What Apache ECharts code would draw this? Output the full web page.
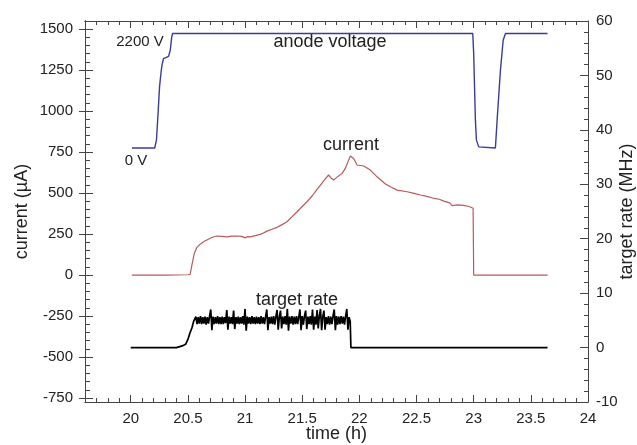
<!DOCTYPE html>
<html><head><meta charset="utf-8">
<script src="https://cdn.jsdelivr.net/npm/echarts@6/dist/echarts.min.js"></script>
<style>html,body{margin:0;padding:0;background:#fff}#c{width:637px;height:445px}</style>
</head><body><div id="c"></div>
<script>
// ---- tick labels ----
const xTicks = [20, 20.5, 21, 21.5, 22, 22.5, 23, 23.5, 24];
const leftTicks = [-750, -500, -250, 0, 250, 500, 750, 1000, 1250, 1500];

// ---- anode voltage [time h, volts] ----
const voltage = [
  [20.01, 0], [20.21, 0], [20.225, 150], [20.24, 700], [20.252, 1174], [20.265, 1450],
  [20.273, 1589], [20.287, 1719], [20.302, 1750], [20.331, 1760], [20.346, 1879],
  [20.358, 2120], [20.366, 2200], [22.992, 2200], [23.0, 1821], [23.015, 535],
  [23.024, 151], [23.044, 22], [23.06, 0], [23.19, 0], [23.205, 535], [23.234, 1495],
  [23.258, 2071], [23.278, 2200], [23.646, 2200]
];

// ---- current [time h, µA] ----
const current = [
  [20.01, 0], [20.3, 0], [20.5, 2], [20.52, 5], [20.535, 60], [20.556, 132], [20.579, 169],
  [20.61, 190], [20.637, 203], [20.67, 215], [20.696, 224], [20.72, 232], [20.754, 238],
  [20.8, 236], [20.842, 233], [20.88, 237], [20.93, 238], [20.97, 236], [21.002, 227],
  [21.02, 234], [21.046, 233], [21.09, 240], [21.133, 248], [21.16, 256], [21.192, 268],
  [21.23, 278], [21.28, 291], [21.32, 306], [21.367, 325], [21.41, 355], [21.455, 386],
  [21.5, 418], [21.542, 447], [21.59, 485], [21.63, 522], [21.66, 549], [21.7, 585],
  [21.731, 610], [21.755, 590], [21.775, 579], [21.81, 600], [21.849, 620], [21.877, 650],
  [21.9, 690], [21.921, 726], [21.95, 711], [21.98, 671], [22.01, 668], [22.038, 665],
  [22.053, 677], [22.096, 640], [22.155, 599], [22.228, 555], [22.28, 535], [22.33, 518],
  [22.418, 508], [22.47, 500], [22.534, 488], [22.59, 480], [22.65, 468], [22.7, 462],
  [22.738, 451], [22.79, 440], [22.811, 423], [22.86, 428], [22.913, 425], [22.96, 418],
  [22.995, 407], [23.0, 0], [23.646, 0]
];

// ---- target rate [time h, MHz] ----
const rateBefore = [
  [20.0, 0], [20.4, 0], [20.45, 0.3], [20.48, 0.6], [20.5, 1.5], [20.52, 2.8], [20.535, 3.6], [20.55, 4.8]
];
const rateNoiseStart = 20.56, rateNoiseStep = 0.01;
const rateNoise = [
  5.0, 5.7, 4.3, 5.6, 4.4, 5.8, 4.3, 5.6, 4.4, 5.7,
  4.2, 5.6, 4.4, 5.8, 7.0, 3.2, 5.7, 4.3, 5.6, 4.4,
  5.8, 4.3, 5.6, 4.3, 5.7, 4.3, 5.6, 4.5, 6.9, 3.3,
  5.7, 4.4, 5.6, 4.3, 6.8, 3.4, 5.6, 4.4, 5.7, 4.3,
  5.6, 4.4, 5.8, 4.2, 7.1, 3.1, 5.7, 4.4, 5.6, 4.3,
  5.8, 4.4, 5.6, 4.3, 5.7, 4.4, 5.6, 4.3, 5.8, 4.4,
  5.6, 4.3, 5.7, 7.0, 3.2, 5.6, 4.4, 5.7, 4.3, 5.8,
  4.2, 5.7, 6.9, 3.3, 5.6, 6.8, 3.5, 5.7, 4.3, 5.8,
  4.2, 7.1, 3.1, 5.7, 4.4, 5.8, 4.2, 5.7, 4.3, 5.8,
  4.3, 5.6, 7.0, 3.2, 5.8, 4.2, 5.8, 6.8, 3.4, 5.7,
  4.3, 5.8, 4.2, 7.0, 3.3, 5.7, 4.2, 6.9, 3.5, 5.8,
  7.1, 3.2, 5.7, 6.8, 3.3, 5.6, 4.3, 5.8, 4.2, 5.7,
  4.3, 5.8, 7.0, 3.2, 5.8, 4.2, 5.7, 4.3, 5.8, 4.4,
  5.7, 4.2, 5.8, 7.1, 3.3, 5.6, 4.8
];
const rateAfter = [[21.922, 4.8], [21.926, 0], [23.646, 0]];

const rate = rateBefore
  .concat(rateNoise.map((v, i) => [Math.round((rateNoiseStart + i * rateNoiseStep) * 1000) / 1000, v]))
  .concat(rateAfter);

// ---- axis tick helpers ----
const xMinor = [];
for (let k = 197; k <= 239; k++) xMinor.push(k / 10);
const leftMinor = [];
for (let k = -15; k <= 30; k++) leftMinor.push(k * 50);

const FONT = 'Liberation Sans';
const TXT = '#222';
const AX = '#444';

const chart = echarts.init(document.getElementById('c'), null, { renderer: 'canvas' });

const baseX = {
  type: 'value', min: 19.6, max: 24, splitLine: { show: false },
  axisLine: { show: true, onZero: false, lineStyle: { color: AX, width: 1 } }
};
const baseY = {
  type: 'value', min: -774, max: 1549, splitLine: { show: false },
  axisLine: { show: true, onZero: false, lineStyle: { color: AX, width: 1 } }
};

chart.setOption({
  animation: false,
  backgroundColor: '#fff',
  grid: { left: 85, right: 49, top: 21, bottom: 43, containLabel: false, outerBoundsMode: 'none' },
  xAxis: [
    Object.assign({}, baseX, {
      position: 'bottom',
      name: 'time (h)', nameLocation: 'middle', nameGap: 23, nameMoveOverlap: false,
      nameTextStyle: { fontFamily: FONT, fontSize: 18, color: TXT },
      axisTick: { show: true, inside: true, length: 7, customValues: xTicks, lineStyle: { color: AX } },
      axisLabel: { show: true, customValues: xTicks, margin: 9, fontFamily: FONT, fontSize: 15, color: TXT }
    }),
    Object.assign({}, baseX, {
      position: 'bottom',
      axisTick: { show: true, inside: true, length: 4, customValues: xMinor, lineStyle: { color: AX } },
      axisLabel: { show: false }
    }),
    Object.assign({}, baseX, {
      position: 'top',
      axisTick: { show: true, inside: true, length: 7, customValues: xTicks, lineStyle: { color: AX } },
      axisLabel: { show: false }
    }),
    Object.assign({}, baseX, {
      position: 'top',
      axisTick: { show: true, inside: true, length: 4, customValues: xMinor, lineStyle: { color: AX } },
      axisLabel: { show: false }
    })
  ],
  yAxis: [
    Object.assign({}, baseY, {
      position: 'left',
      name: 'current (µA)', nameLocation: 'middle', nameGap: 54, nameRotate: 90, nameMoveOverlap: false,
      nameTextStyle: { fontFamily: FONT, fontSize: 18, color: TXT },
      axisTick: { show: true, inside: true, length: 8, customValues: leftTicks, lineStyle: { color: AX } },
      axisLabel: { show: true, customValues: leftTicks, margin: 12, fontFamily: FONT, fontSize: 15, color: TXT,
                   formatter: v => String(v) }
    }),
    Object.assign({}, baseY, {
      position: 'left',
      axisTick: { show: true, inside: true, length: 5, customValues: leftMinor, lineStyle: { color: AX } },
      axisLabel: { show: false }
    }),
    Object.assign({}, baseY, {
      position: 'left',
      axisTick: { show: true, inside: false, length: 6, customValues: leftTicks, lineStyle: { color: AX } },
      axisLabel: { show: false }
    }),
    {
      type: 'value', position: 'right', min: -10, max: 60, interval: 10,
      splitLine: { show: false },
      name: 'target rate (MHz)', nameLocation: 'middle', nameGap: 30, nameRotate: 90, nameMoveOverlap: false,
      nameTextStyle: { fontFamily: FONT, fontSize: 18, color: TXT },
      axisLine: { show: true, onZero: false, lineStyle: { color: AX, width: 1 } },
      axisTick: { show: true, inside: true, length: 8, lineStyle: { color: AX } },
      minorTick: { show: true, splitNumber: 5, length: 4, lineStyle: { color: AX } },
      axisLabel: { show: true, margin: 8, fontFamily: FONT, fontSize: 15, color: TXT }
    },
    {
      type: 'value', position: 'left', min: -4880, max: 2440, show: false, splitLine: { show: false }
    }
  ],
  series: [
    {
      name: 'anode voltage', type: 'line', xAxisIndex: 0, yAxisIndex: 4, data: voltage,
      showSymbol: false, symbol: 'none', lineStyle: { color: '#3a3d95', width: 1.4 }, z: 3
    },
    {
      name: 'current', type: 'line', xAxisIndex: 0, yAxisIndex: 0, data: current,
      showSymbol: false, symbol: 'none', lineStyle: { color: '#b85a5a', width: 1.2 }, z: 3
    },
    {
      name: 'target rate', type: 'line', xAxisIndex: 0, yAxisIndex: 3, data: rate,
      showSymbol: false, symbol: 'none', lineStyle: { color: '#000', width: 1.7 }, z: 3
    }
  ],
  graphic: [
    { type: 'text', x: 140, y: 42, style: { text: '2200 V', fontFamily: FONT, fontSize: 15, fill: TXT, align: 'center', verticalAlign: 'middle' } },
    { type: 'text', x: 136, y: 161, style: { text: '0 V', fontFamily: FONT, fontSize: 15, fill: TXT, align: 'center', verticalAlign: 'middle' } },
    { type: 'text', x: 330, y: 42, style: { text: 'anode voltage', fontFamily: FONT, fontSize: 18, fill: TXT, align: 'center', verticalAlign: 'middle' } },
    { type: 'text', x: 351, y: 145, style: { text: 'current', fontFamily: FONT, fontSize: 18, fill: TXT, align: 'center', verticalAlign: 'middle' } },
    { type: 'text', x: 297, y: 300, style: { text: 'target rate', fontFamily: FONT, fontSize: 18, fill: TXT, align: 'center', verticalAlign: 'middle' } }
  ]
});
</script>
</body></html>
